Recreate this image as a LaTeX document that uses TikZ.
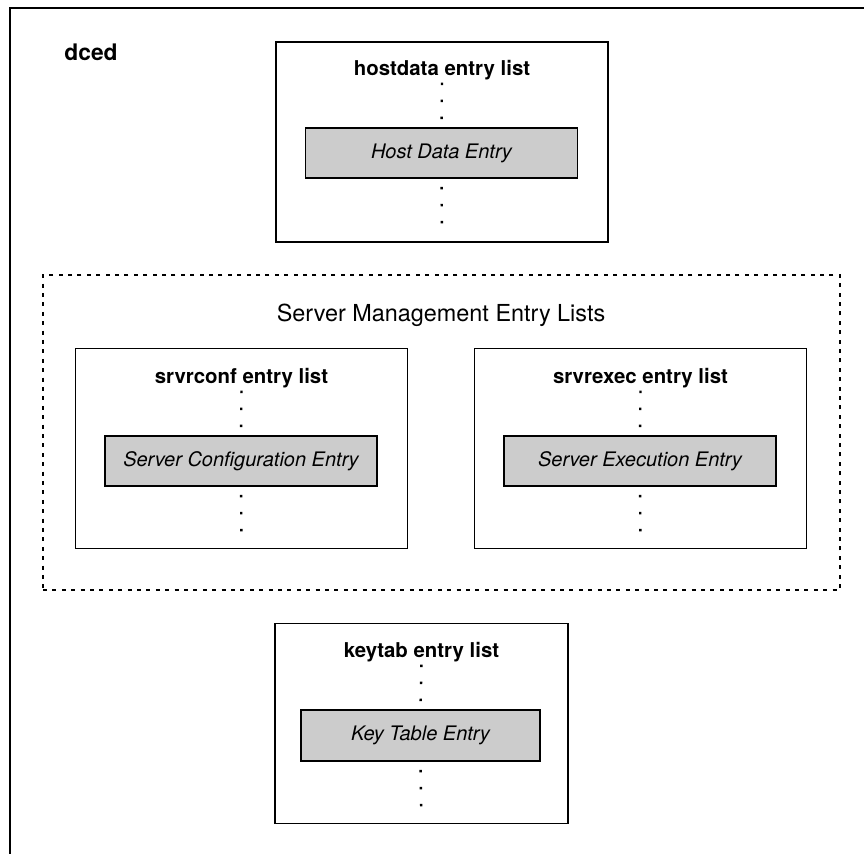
\documentclass[tikz,border=0pt]{standalone}
\usepackage{fontspec}
\setmainfont{TeX Gyre Heros}
\begin{document}
\begin{tikzpicture}
[
  x=0.5pt, y=-0.5pt,
  frame/.style={line width=1.1pt},
  lst/.style={draw,line width=0.95pt,minimum width=166pt,minimum height=100pt,inner sep=0},
  ent/.style={draw,line width=0.95pt,fill=black!20,minimum width=136pt,minimum height=25pt,inner sep=0,font=\itshape\fontsize{10}{12}\selectfont},
  ttl/.style={inner sep=0,font=\bfseries\fontsize{10.2}{12}\selectfont},
  grp/.style={draw,line width=0.75pt,dash pattern=on 2pt off 2.7pt,minimum width=398.5pt,minimum height=157.5pt,inner sep=0},
  dotcol/.style={line width=1.2pt,dash pattern=on 1.2pt off 7.3pt,dash phase=4.5pt},
  dotdown/.style={dotcol,shorten >=6pt}
]
\useasboundingbox (0,0) rectangle (864,854);

% dced frame
\draw[frame] (10,854) -- (10,8) -- (864,8);
\node[ttl,anchor=west,font=\bfseries\fontsize{11.4}{14}\selectfont] (dced) at (64,52) {dced};

% hostdata
\node[lst] (hostB) at (442,142) {};
\node[ttl] (hostT) at (442,70) {hostdata entry list};
\node[ent] (hostE) at (441.5,153) {Host Data Entry};
\draw[dotcol] (hostE.north) -- (hostT.south);
\draw[dotdown] (hostE.south) -- (hostB.south);

% server management
\node[grp] (srvG) at (441.5,432.5) {};
\node[inner sep=0,font=\fontsize{11.7}{14}\selectfont] (srvT) at (441,315) {Server Management Entry Lists};

\node[lst] (confB) at (241.5,448.5) {};
\node[ttl] (confT) at (241.5,378) {srvrconf entry list};
\node[ent] (confE) at (241,461) {Server Configuration Entry};
\draw[dotcol] (confE.north) -- (confT.south);
\draw[dotdown] (confE.south) -- (confB.south);

\node[lst] (execB) at (640.5,448.5) {};
\node[ttl] (execT) at (640.5,378) {srvrexec entry list};
\node[ent] (execE) at (640,461) {Server Execution Entry};
\draw[dotcol] (execE.north) -- (execT.south);
\draw[dotdown] (execE.south) -- (execB.south);

% keytab
\node[lst,minimum width=146.5pt] (keyB) at (421.5,723.5) {};
\node[ttl] (keyT) at (421.5,652) {keytab entry list};
\node[ent,minimum width=119.5pt,minimum height=25.5pt] (keyE) at (420.5,735.5) {Key Table Entry};
\draw[dotcol] (keyE.north) -- (keyT.south);
\draw[dotdown] (keyE.south) -- (keyB.south);

\end{tikzpicture}
\end{document}
